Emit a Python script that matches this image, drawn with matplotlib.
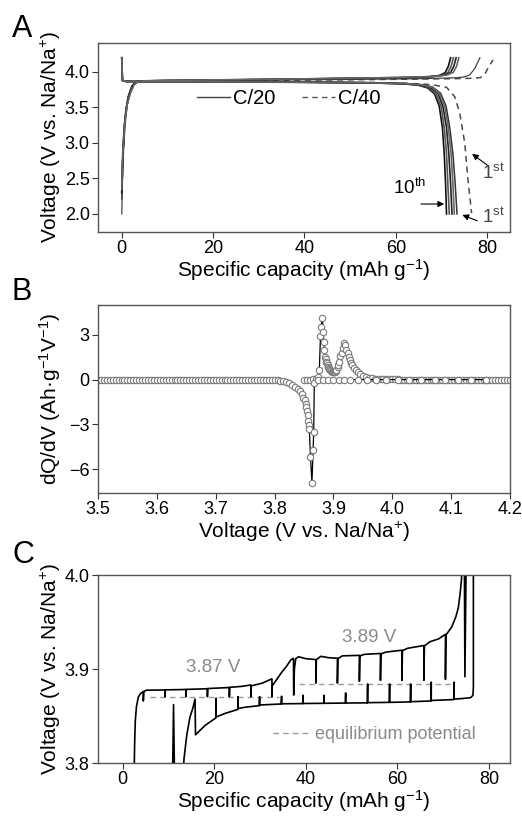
import numpy as np
import matplotlib
matplotlib.use("Agg")
import matplotlib.pyplot as plt

plt.rcParams['font.family'] = ['Liberation Sans', 'DejaVu Sans']
plt.rcParams['mathtext.fontset'] = 'custom'
plt.rcParams['mathtext.rm'] = 'Liberation Sans'
plt.rcParams['mathtext.it'] = 'Liberation Sans'
plt.rcParams['mathtext.default'] = 'regular'

# ---------------- panel A: charge/discharge profiles ----------------
# C/20, first cycle
a_chg1_x = [0.0, 0.2, 0.5, 0.9, 1.5, 2.3, 3.2, 4.2, 10, 30, 50, 65, 70, 73, 75, 76.2, 77.3, 78.4]
a_chg1_v = [2.00, 2.60, 3.10, 3.45, 3.66, 3.80, 3.86, 3.872, 3.876, 3.885, 3.895, 3.905, 3.912, 3.918, 3.93, 3.96, 4.05, 4.20]
a_dis1_x = [0, 0.15, 1, 5, 20, 40, 55, 62, 65.5, 68, 69.8, 71.0, 71.8, 72.5, 73.0, 73.4]
a_dis1_v = [4.20, 3.88, 3.868, 3.866, 3.862, 3.857, 3.850, 3.838, 3.822, 3.79, 3.70, 3.52, 3.22, 2.85, 2.42, 2.00]
# C/20, later cycles (up to 10th)
a_chg2_x = [0.0, 0.2, 0.5, 0.9, 1.4, 2.2, 3.0, 4.0, 10, 30, 50, 62, 67, 69.5, 70.8, 71.5, 72.0]
a_chg2_v = [2.30, 2.75, 3.15, 3.45, 3.65, 3.80, 3.86, 3.873, 3.878, 3.892, 3.908, 3.918, 3.930, 3.950, 3.990, 4.080, 4.200]
a_chg3_x = [0.0, 0.2, 0.5, 1.0, 1.6, 2.4, 3.3, 4.3, 10, 30, 50, 62, 67.5, 70.0, 71.4, 72.1, 72.6]
a_chg3_v = [2.40, 2.85, 3.20, 3.50, 3.68, 3.81, 3.86, 3.873, 3.879, 3.893, 3.910, 3.921, 3.933, 3.952, 3.990, 4.080, 4.200]
a_chg4_x = [0.0, 0.3, 0.6, 1.1, 1.8, 2.6, 3.5, 4.5, 10, 30, 50, 62, 68.0, 70.6, 72.0, 72.7, 73.2]
a_chg4_v = [2.30, 2.90, 3.25, 3.52, 3.70, 3.82, 3.86, 3.874, 3.880, 3.894, 3.911, 3.922, 3.935, 3.955, 3.992, 4.080, 4.200]
a_chg5_x = [0.0, 0.3, 0.7, 1.2, 2.0, 2.8, 3.7, 4.7, 10, 30, 50, 62, 68.5, 71.2, 72.6, 73.3, 73.8]
a_chg5_v = [2.35, 2.95, 3.30, 3.55, 3.72, 3.83, 3.865, 3.875, 3.881, 3.895, 3.912, 3.924, 3.937, 3.957, 3.995, 4.080, 4.200]
a_dis2_x = [0, 0.15, 1, 5, 20, 40, 55, 62, 65, 67, 68.5, 69.5, 70.2, 70.6, 70.9, 71.1]
a_dis2_v = [4.20, 3.88, 3.866, 3.864, 3.860, 3.854, 3.845, 3.832, 3.812, 3.775, 3.69, 3.52, 3.22, 2.85, 2.42, 2.00]
a_dis3_x = [0, 0.15, 1, 5, 20, 40, 55, 62, 65.2, 67.3, 68.8, 69.9, 70.6, 71.1, 71.4, 71.7]
a_dis3_v = [4.20, 3.88, 3.867, 3.865, 3.861, 3.855, 3.846, 3.833, 3.814, 3.777, 3.69, 3.52, 3.22, 2.85, 2.42, 2.00]
a_dis4_x = [0, 0.15, 1, 5, 20, 40, 55, 62, 65.5, 67.6, 69.2, 70.3, 71.1, 71.6, 72.0, 72.3]
a_dis4_v = [4.20, 3.88, 3.867, 3.865, 3.861, 3.856, 3.847, 3.835, 3.816, 3.780, 3.70, 3.52, 3.22, 2.85, 2.42, 2.00]
a_dis5_x = [0, 0.15, 1, 5, 20, 40, 55, 62, 65.8, 67.9, 69.5, 70.7, 71.5, 72.1, 72.5, 72.8]
a_dis5_v = [4.20, 3.88, 3.867, 3.865, 3.861, 3.856, 3.848, 3.836, 3.818, 3.783, 3.70, 3.52, 3.22, 2.85, 2.42, 2.00]
# C/40, first cycle
a_c40_chg_x = [0.0, 0.3, 0.7, 1.2, 2.0, 3.0, 4.2, 10, 30, 50, 65, 72, 76, 78.5, 79.5, 80.3, 81.3]
a_c40_chg_v = [2.20, 2.80, 3.25, 3.55, 3.75, 3.85, 3.868, 3.872, 3.880, 3.890, 3.900, 3.905, 3.910, 3.920, 3.970, 4.070, 4.170]
a_c40_dis_x = [0, 0.15, 1, 5, 20, 40, 55, 62, 66, 68.2, 71.1, 72.9, 74.0, 75.1, 75.8, 76.6]
a_c40_dis_v = [4.15, 3.87, 3.866, 3.864, 3.860, 3.855, 3.850, 3.840, 3.830, 3.817, 3.784, 3.652, 3.418, 2.996, 2.479, 2.010]

# ---------------- panel B: dQ/dV ----------------
b_chg_v = [3.850, 3.855, 3.860, 3.865, 3.870, 3.874, 3.876, 3.878, 3.879, 3.881, 3.883, 3.8835,
           3.8846, 3.886, 3.887, 3.888, 3.889, 3.890, 3.891, 3.892, 3.893, 3.895, 3.896, 3.898,
           3.899, 3.901, 3.902, 3.904, 3.905, 3.907, 3.908, 3.910, 3.912, 3.914, 3.916, 3.918,
           3.920, 3.922, 3.924, 3.926, 3.928, 3.930, 3.932, 3.935, 3.938, 3.941, 3.945, 3.950,
           3.955, 3.960, 3.965, 3.970, 3.975, 3.980, 3.985, 3.990, 3.995, 4.000, 4.005, 4.010,
           4.015, 4.020, 4.025, 4.030, 4.035, 4.040, 4.045, 4.050, 4.055, 4.060, 4.065, 4.070,
           4.075, 4.080, 4.085, 4.090, 4.095, 4.100, 4.105, 4.110, 4.115, 4.120, 4.125, 4.130,
           4.135, 4.140, 4.145, 4.150, 4.155, 4.160, 4.165, 4.170, 4.175, 4.180, 4.185, 4.190,
           4.195, 4.200]
b_chg_q = [0.0, 0.0, 0.0, 0.02, 0.05, 0.15, 0.63, 2.9, 3.5, 4.12, 3.17, 2.54,
           1.98, 1.53, 1.35, 1.2, 1.08, 0.95, 0.85, 0.77, 0.70, 0.63, 0.58, 0.53,
           0.51, 0.50, 0.52, 0.58, 0.65, 0.82, 1.00, 1.20, 1.55, 1.76, 2.15, 2.43,
           2.30, 2.00, 1.75, 1.53, 1.30, 1.12, 0.97, 0.78, 0.62, 0.50, 0.37, 0.26,
           0.19, 0.14, 0.10, 0.07, 0.05, 0.04, 0.03, 0.02, 0.02, 0.01, 0.01, 0.01,
           0.0, 0.0, 0.0, 0.0, 0.0, 0.0, 0.0, 0.0, 0.0, 0.0, 0.0, 0.0,
           0.0, 0.0, 0.0, 0.0, 0.0, 0.0, 0.0, 0.0, 0.0, 0.0, 0.0, 0.0,
           0.0, 0.0, 0.0, 0.0, 0.0, 0.0, 0.0, 0.0, 0.0, 0.0, 0.0, 0.0,
           0.0, 0.0]
b_dis_v = [3.500, 3.505, 3.510, 3.515, 3.520, 3.525, 3.530, 3.535, 3.540, 3.545,
           3.550, 3.555, 3.560, 3.565, 3.570, 3.575, 3.580, 3.585, 3.590, 3.595,
           3.600, 3.605, 3.610, 3.615, 3.620, 3.625, 3.630, 3.635, 3.640, 3.645,
           3.650, 3.655, 3.660, 3.665, 3.670, 3.675, 3.680, 3.685, 3.690, 3.695,
           3.700, 3.705, 3.710, 3.715, 3.720, 3.725, 3.730, 3.735, 3.740, 3.745,
           3.750, 3.755, 3.760, 3.765, 3.770, 3.775, 3.780, 3.785, 3.790, 3.795,
           3.800, 3.805, 3.810, 3.815, 3.820, 3.825, 3.830, 3.835, 3.840, 3.843,
           3.846, 3.849, 3.851, 3.853, 3.854, 3.855, 3.856, 3.857, 3.858, 3.859,
           3.861, 3.8635, 3.8655, 3.8665, 3.8675, 3.874, 3.883, 3.891, 3.900, 3.909,
           3.918, 3.929, 3.941, 3.957, 3.973, 3.990, 4.009, 4.029, 4.049, 4.072,
           4.090, 4.112, 4.134, 4.160]
b_dis_q = [0.0] * 60 + [-0.02, -0.04, -0.07, -0.10, -0.15, -0.22, -0.33, -0.48, -0.62, -0.75,
                        -0.95, -1.20, -1.40, -1.65, -1.85, -2.10, -2.40, -2.75, -3.05, -3.30,
                        -5.20, -6.90, -4.70, -3.50, -0.20, 0.0, 0.0, 0.0, 0.0, 0.0,
                        0.0, 0.0, 0.0, 0.0, 0.0, 0.0, 0.0, 0.0, 0.0, 0.0,
                        0.0, 0.0, 0.0, 0.0]

# ---------------- panel C: GITT ----------------
c_chg_x = [2.4, 2.5, 2.6, 2.75, 3.0, 3.4, 3.9, 4.5, 4.5, 4.6, 5.2, 9.2, 9.2, 9.25,
           13.8, 13.8, 13.85, 18.5, 18.5, 18.55, 23.3, 23.3, 23.35, 26.0, 28.0, 28.0, 28.05,
           30.5, 32.6, 32.6, 32.65, 33.8, 34.8, 35.8, 36.7, 37.3, 37.35, 37.5, 37.8, 38.4,
           40.0, 42.2, 42.2, 42.3, 43.3, 45.0, 46.9, 46.9, 47.0, 48.0, 51.7, 51.7, 51.8,
           52.8, 56.3, 56.3, 56.4, 57.5, 61.0, 61.0, 61.1, 62.2, 65.8, 65.8, 65.9, 67.1,
           69.0, 70.5, 70.5, 70.6, 71.9, 72.8, 73.3, 73.7, 74.0, 74.3, 74.6, 74.75, 75.1, 76.6]
c_chg_v = [3.700, 3.790, 3.820, 3.845, 3.860, 3.870, 3.874, 3.876, 3.866, 3.876, 3.8775, 3.8777, 3.8705, 3.8778,
           3.8782, 3.8705, 3.8783, 3.8790, 3.8705, 3.8792, 3.8803, 3.8705, 3.8805, 3.8815, 3.8830, 3.8705, 3.8820,
           3.8850, 3.8895, 3.8705, 3.8820, 3.8900, 3.8970, 3.9030, 3.9096, 3.9113, 3.8723, 3.9000, 3.9110, 3.9130,
           3.9110, 3.9100, 3.8850, 3.9100, 3.9135, 3.9120, 3.9115, 3.8850, 3.9110, 3.9140, 3.9145, 3.8870, 3.9140,
           3.9156, 3.9165, 3.8880, 3.9160, 3.9180, 3.9200, 3.8880, 3.9195, 3.9220, 3.9250, 3.8880, 3.9245, 3.9290,
           3.9320, 3.9370, 3.8890, 3.9360, 3.9450, 3.9560, 3.9650, 3.9800, 3.9950, 4.0500, 4.0500, 3.8918, 4.0500, 4.0500]
c_dis_x = [76.6, 76.6, 76.5, 76.0, 74.0, 72.4, 72.4, 72.35, 67.4, 67.4, 67.35, 62.9, 62.9, 62.85,
           58.3, 58.3, 58.25, 53.5, 53.5, 53.45, 48.7, 48.7, 48.65, 44.0, 44.0, 43.95, 39.4, 39.4, 39.35,
           34.7, 34.7, 34.65, 29.9, 29.9, 29.85, 27.0, 25.2, 25.2, 25.15, 22.5, 20.4, 20.4, 20.35,
           18.0, 15.9, 15.8, 15.3, 14.7, 14.0, 13.4, 13.2, 11.3, 11.1, 10.9, 10.0]
c_dis_v = [4.050, 3.880, 3.872, 3.8695, 3.8685, 3.8680, 3.8860, 3.8675, 3.8665, 3.8860, 3.8660, 3.8652, 3.8840, 3.8650,
           3.8645, 3.8840, 3.8645, 3.8642, 3.8840, 3.8640, 3.8638, 3.8745, 3.8638, 3.8635, 3.8720, 3.8635, 3.8633, 3.8720, 3.8632,
           3.8630, 3.8710, 3.8628, 3.8617, 3.8706, 3.8610, 3.8595, 3.8580, 3.8706, 3.8570, 3.8530, 3.8490, 3.8690, 3.8480,
           3.8400, 3.8300, 3.8680, 3.8580, 3.8490, 3.8300, 3.8050, 3.7900, 3.7900, 3.8620, 3.7900, 3.7000]
c_eq1_x = [5.9, 34.1]
c_eq1_v = [3.8705, 3.8705]
c_eq2_x = [38.6, 72.0]
c_eq2_v = [3.884, 3.884]

W, H = 522, 817
fig = plt.figure(figsize=(W / 100, H / 100), dpi=100)

TICK = 13
LAB = 15


def box(top, bottom, left=98, right=510):
    return [left / W, 1 - bottom / H, (right - left) / W, (bottom - top) / H]


def style(ax):
    for s in ax.spines.values():
        s.set_color('#555555')
        s.set_linewidth(1.0)
    ax.tick_params(direction='out', length=4, width=0.8, color='#333333',
                   labelsize=TICK, pad=2)


axA = fig.add_axes(box(43, 232))
axB = fig.add_axes(box(305, 493))
axC = fig.add_axes(box(575, 763))
for ax in (axA, axB, axC):
    style(ax)

# ---- A ----
axA.plot(a_c40_dis_x, a_c40_dis_v, '--', color='#4a4a4a', lw=1.1, dashes=(4, 3))
axA.plot(a_c40_chg_x, a_c40_chg_v, '--', color='#4a4a4a', lw=1.1, dashes=(4, 3))
axA.plot(a_chg1_x, a_chg1_v, color='#444444', lw=0.9)
axA.plot(a_dis1_x, a_dis1_v, color='#333333', lw=1.1)
cyc = [((a_chg2_x, a_chg2_v), (a_dis2_x, a_dis2_v), '#111111'),
       ((a_chg3_x, a_chg3_v), (a_dis3_x, a_dis3_v), '#555555'),
       ((a_chg4_x, a_chg4_v), (a_dis4_x, a_dis4_v), '#222222'),
       ((a_chg5_x, a_chg5_v), (a_dis5_x, a_dis5_v), '#666666')]
for (cx, cv), (dx, dv), c in cyc:
    axA.plot(cx, cv, color=c, lw=1.2)
    axA.plot(dx, dv, color=c, lw=1.2)
h20, = axA.plot([], [], color='#444444', lw=1.0)
h40, = axA.plot([], [], '--', color='#555555', lw=1.0, dashes=(4, 3))
leg1 = axA.legend([h20], ['C/20'], loc='center left', bbox_to_anchor=((197 - 98) / 412, 0.705),
                  frameon=False, fontsize=14.5, handlelength=1.65, handletextpad=0.15,
                  borderpad=0, borderaxespad=0)
axA.add_artist(leg1)
axA.legend([h40], ['C/40'], loc='center left', bbox_to_anchor=((302 - 98) / 412, 0.705),
           frameon=False, fontsize=14.5, handlelength=1.65, handletextpad=0.15,
           borderpad=0, borderaxespad=0)
axA.set_xlim(-5.2, 85)
axA.set_ylim(1.746, 4.408)
axA.set_xticks([0, 20, 40, 60, 80])
axA.set_yticks([2.0, 2.5, 3.0, 3.5, 4.0])
axA.set_yticklabels(['2.0', '2.5', '3.0', '3.5', '4.0'])
axA.set_xlabel('Specific capacity (mAh g$^{-1}$)', fontsize=LAB, labelpad=0)
axA.set_ylabel('Voltage (V vs. Na/Na$^{+}$)', fontsize=LAB)
axA.yaxis.set_label_coords(-0.085, 0.5)
arw = dict(arrowstyle='-|>', color='black', lw=0.8, mutation_scale=9)
axA.annotate('', xy=(71.2, 2.14), xytext=(64.9, 2.14), arrowprops=arw)
axA.text(63.0, 2.22, '10$^{th}$', fontsize=13.5, ha='center', va='bottom')
axA.annotate('', xy=(74.0, 2.0), xytext=(78.4, 1.89), arrowprops=arw)
axA.text(78.8, 1.95, '1$^{st}$', fontsize=13.5, ha='left', va='center', color='#444444')
axA.annotate('', xy=(76.2, 2.87), xytext=(80.6, 2.66), arrowprops=arw)
axA.text(78.8, 2.58, '1$^{st}$', fontsize=13.5, ha='left', va='center', color='#444444')

# ---- B ----
axB.plot(b_chg_v, b_chg_q, '-', color='black', lw=0.9, marker='o', ms=4.6,
         mfc='white', mec='#7a7a7a', mew=0.8)
axB.plot(b_dis_v, b_dis_q, '-', color='black', lw=0.9, marker='o', ms=4.6,
         mfc='white', mec='#7a7a7a', mew=0.8)
axB.set_xlim(3.5, 4.2)
axB.set_ylim(-7.6, 5.0)
axB.set_xticks([3.5, 3.6, 3.7, 3.8, 3.9, 4.0, 4.1, 4.2])
axB.set_xticklabels(['3.5', '3.6', '3.7', '3.8', '3.9', '4.0', '4.1', '4.2'])
axB.set_yticks([3, 0, -3, -6])
axB.set_xlabel('Voltage (V vs. Na/Na$^{+}$)', fontsize=LAB, labelpad=1)
axB.set_ylabel('dQ/dV (Ah\u00b7g$^{-1}$V$^{-1}$)', fontsize=LAB)
axB.yaxis.set_label_coords(-0.085, 0.5)

# ---- C ----
axC.plot(c_eq1_x, c_eq1_v, '--', color='#9a9a9a', lw=1.0, dashes=(4, 3))
axC.plot(c_eq2_x, c_eq2_v, '--', color='#9a9a9a', lw=1.0, dashes=(4, 3))
axC.plot(c_chg_x, c_chg_v, color='black', lw=1.2)
axC.plot(c_dis_x, c_dis_v, color='black', lw=1.2)
heq, = axC.plot([], [], '--', color='#9a9a9a', lw=1.0, dashes=(4, 3))
axC.legend([heq], ['equilibrium potential'], loc='center left',
           bbox_to_anchor=((273 - 98) / 412, 0.149), frameon=False, fontsize=13,
           handlelength=2.15, handletextpad=0.2, labelcolor='#8a8a8a',
           borderpad=0, borderaxespad=0)
axC.text(19.8, 3.902, '3.87 V', fontsize=13.5, color='#8a8a8a', ha='center', va='center')
axC.text(53.8, 3.934, '3.89 V', fontsize=13.5, color='#8a8a8a', ha='center', va='center')
axC.set_xlim(-5.4, 84.6)
axC.set_ylim(3.8, 4.0)
axC.set_xticks([0, 20, 40, 60, 80])
axC.set_yticks([3.8, 3.9, 4.0])
axC.set_yticklabels(['3.8', '3.9', '4.0'])
axC.set_xlabel('Specific capacity (mAh g$^{-1}$)', fontsize=LAB, labelpad=0)
axC.set_ylabel('Voltage (V vs. Na/Na$^{+}$)', fontsize=LAB)
axC.yaxis.set_label_coords(-0.085, 0.5)

fig.text(12 / W, 1 - 37 / H, 'A', fontsize=22, va='baseline')
fig.text(12 / W, 1 - 300 / H, 'B', fontsize=22, va='baseline')
fig.text(12 / W, 1 - 563 / H, 'C', fontsize=22, va='baseline')

fig.savefig('out.png', dpi=100)
